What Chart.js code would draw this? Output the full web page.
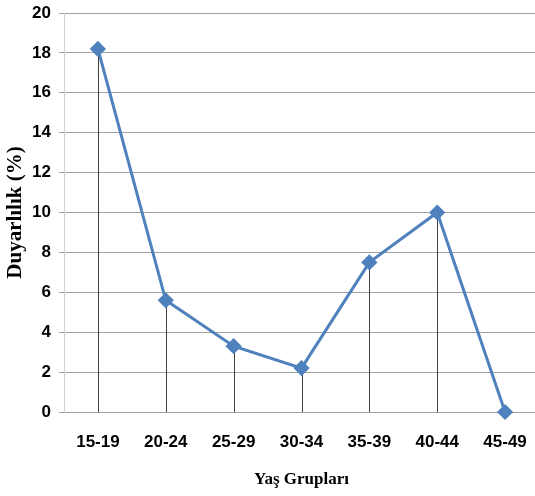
<!DOCTYPE html>
<html lang="tr">
<head>
    <meta charset="UTF-8">
    <title>Duyarlılık - Yaş Grupları</title>
    <script src="https://cdn.jsdelivr.net/npm/chart.js"></script>
    <style>
        html, body {
            margin: 0;
            padding: 0;
            background: white;
            overflow: hidden;
        }
        canvas { display: block; }
    </style>
</head>
<body>
    <canvas id="chart" width="540" height="496"></canvas>
    <script>
        const ageGroups = ["15-19", "20-24", "25-29", "30-34", "35-39", "40-44", "45-49"];
        const sensitivity = [18.2, 5.6, 3.3, 2.2, 7.5, 10, 0];
        const yTicks = [0, 2, 4, 6, 8, 10, 12, 14, 16, 18, 20];

        const tickFont = { family: "'Liberation Sans Narrow', 'Arial Narrow', 'Liberation Sans', Arial, sans-serif", size: 17, weight: "bold" };
        const xTitleFont = { family: "'Liberation Serif', 'Times New Roman', serif", size: 17, weight: "bold" };
        const yTitleFont = { family: "'Liberation Serif', 'Times New Roman', serif", size: 21, weight: "bold" };

        // thin vertical lines from each point down to zero
        const dropLines = {
            id: "dropLines",
            beforeDatasetsDraw(chart) {
                const ctx = chart.ctx;
                const x = chart.scales.x, y = chart.scales.y;
                ctx.save();
                ctx.strokeStyle = "#404040";
                ctx.lineWidth = 1;
                sensitivity.forEach((v, i) => {
                    const px = Math.round(x.getPixelForValue(i)) + 0.5;
                    ctx.beginPath();
                    ctx.moveTo(px, y.getPixelForValue(v));
                    ctx.lineTo(px, y.getPixelForValue(0));
                    ctx.stroke();
                });
                ctx.restore();
            }
        };

        new Chart(document.getElementById("chart"), {
            type: "line",
            data: {
                labels: ageGroups,
                datasets: [{
                    data: sensitivity,
                    borderColor: "#4f81bd",
                    backgroundColor: "#4f81bd",
                    borderWidth: 3,
                    pointStyle: "rectRot",
                    pointRadius: 6,
                    tension: 0,
                    fill: false,
                    clip: 10
                }]
            },
            options: {
                responsive: false,
                animation: false,
                layout: { autoPadding: false, padding: { top: 13, left: 0, right: 1, bottom: 0 } },
                plugins: {
                    legend: { display: false },
                    tooltip: { enabled: false }
                },
                scales: {
                    x: {
                        offset: true,
                        grid: { display: false, drawTicks: false },
                        border: { display: false },
                        ticks: { color: "#000", font: tickFont, padding: 20, maxRotation: 0 },
                        title: { display: true, text: "Yaş Grupları", color: "#000", font: xTitleFont, padding: { top: 0, bottom: 6 } },
                        afterFit(s) { s.height = 84; s.paddingLeft = 0; s.paddingRight = 0; }
                    },
                    y: {
                        min: 0,
                        max: 20,
                        afterBuildTicks(s) { s.ticks = yTicks.map(v => ({ value: v })); },
                        grid: { color: "#a0a0a0", lineWidth: 1, tickLength: 5, drawTicks: true },
                        border: { display: true, color: "#d0d0d0" },
                        ticks: { color: "#000", font: tickFont, padding: 8 },
                        title: { display: true, text: "Duyarlılık (%)", color: "#000", font: yTitleFont, padding: { top: 3, bottom: 0 } },
                        afterFit(s) { s.width = 64; s.paddingTop = 0; s.paddingBottom = 0; }
                    }
                }
            },
            plugins: [dropLines]
        });
    </script>
</body>
</html>
